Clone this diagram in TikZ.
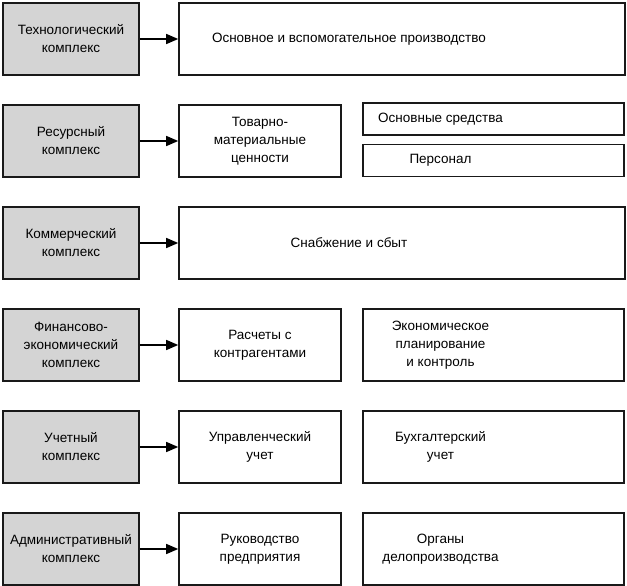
\documentclass[tikz,border=0pt]{standalone}
\usepackage{fontspec}
\setmainfont{Liberation Sans}
\usetikzlibrary{arrows.meta}

\tikzset{
  kompleks/.style={draw=black!90, line width=1.6pt, fill=black!17, inner sep=0pt,
    minimum width=136pt, minimum height=72pt, align=center},
  blok/.style={draw=black!90, line width=1.6pt, fill=white, inner sep=0pt,
    minimum height=72pt, align=center},
  nadpis/.style={align=center, inner sep=0pt},
  strelka/.style={line width=1.4pt, -{Triangle[length=12pt,width=10pt]}}
}

\begin{document}
\begin{tikzpicture}[x=1pt, y=-1pt, font=\fontsize{13.5}{18}\selectfont]
  \useasboundingbox (0,0) rectangle (627,586);
  \pgfmathsetmacro{\dy}{102};
  \pgfmathsetmacro{\sdvig}{-53};

  % Left column: the complexes

  \foreach \i/\name in {1/{Технологический\\комплекс}, 2/{Ресурсный\\комплекс},
      3/{Коммерческий\\комплекс}, 4/{Финансово-\\экономический\\комплекс},
      5/{Учетный\\комплекс}, 6/{Административный\\комплекс}}{
    \pgfmathsetmacro{\yc}{39 + (\i-1)*\dy};
    \node[kompleks] (k\i) at (71,\yc) {\name};
  }

  % Then the boxes on the right

  \node[blok, minimum width=446pt] (b1) at (402,39) {};
  \node[nadpis] (t1) at ([xshift=\sdvig]b1.center) {Основное и вспомогательное производство};

  \node[blok, minimum width=162pt] (b2) at (260,141) {Товарно-\\материальные\\ценности};
  \node[blok, minimum width=261pt, minimum height=32pt] (c2a) at (493.5,119) {};
  \node[nadpis] (t2a) at ([xshift=\sdvig]c2a.center) {Основные средства};
  \node[blok, minimum width=261pt, minimum height=32pt] (c2b) at (493.5,160.5) {};
  \node[nadpis] (t2b) at ([xshift=\sdvig]c2b.center) {Персонал};

  \node[blok, minimum width=446pt] (b3) at (402,243) {};
  \node[nadpis] (t3) at ([xshift=\sdvig]b3.center) {Снабжение и сбыт};

  \node[blok, minimum width=162pt] (b4) at (260,345) {Расчеты с\\контрагентами};
  \node[blok, minimum width=261pt] (c4) at (493.5,345) {};
  \node[nadpis] (t4) at ([xshift=\sdvig]c4.center) {Экономическое\\планирование\\и контроль};

  \node[blok, minimum width=162pt] (b5) at (260,447) {Управленческий\\учет};
  \node[blok, minimum width=261pt] (c5) at (493.5,447) {};
  \node[nadpis] (t5) at ([xshift=\sdvig]c5.center) {Бухгалтерский\\учет};

  \node[blok, minimum width=162pt] (b6) at (260,549) {Руководство\\предприятия};
  \node[blok, minimum width=261pt] (c6) at (493.5,549) {};
  \node[nadpis] (t6) at ([xshift=\sdvig]c6.center) {Органы\\делопроизводства};

  % Arrows

  \foreach \i in {1,...,6}{
    \draw[strelka] (k\i.east) -- (k\i.east -| b\i.west);
  }
\end{tikzpicture}
\end{document}
